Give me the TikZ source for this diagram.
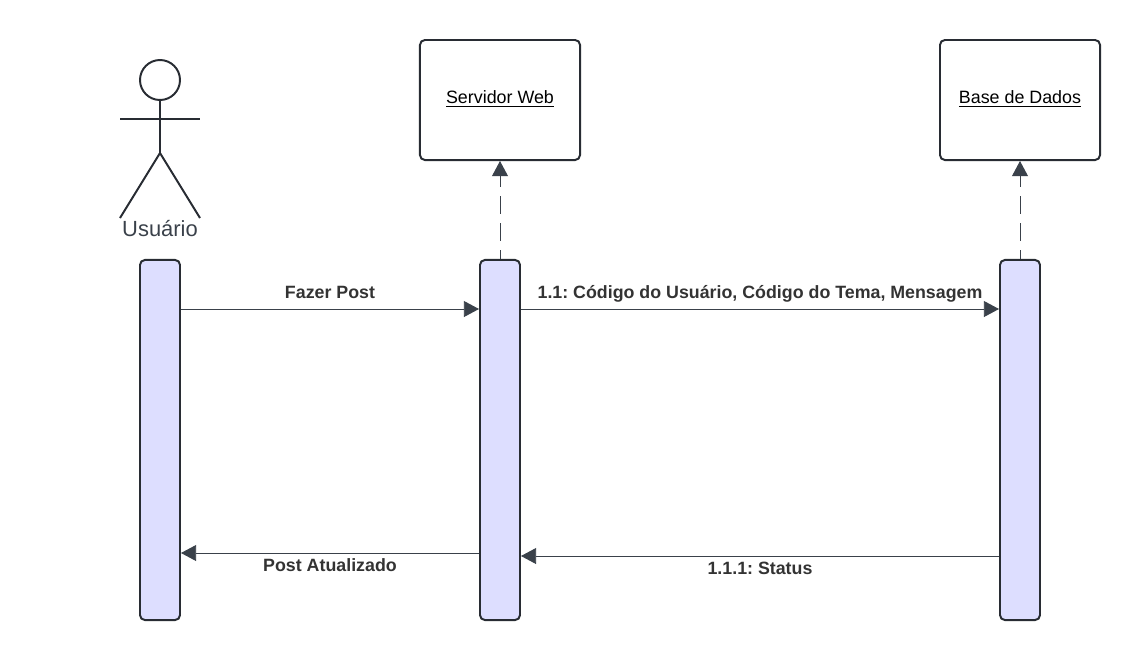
\documentclass[tikz,border=0pt]{standalone}
\usepackage{fontspec}
\setmainfont{Liberation Sans}
\usetikzlibrary{arrows.meta,positioning}
\frenchspacing
\definecolor{linecol}{HTML}{3A414A}
\definecolor{edgecol}{HTML}{282C33}
\definecolor{barcol}{HTML}{DDDEFF}
\definecolor{textcol}{HTML}{333333}

\begin{document}
\begin{tikzpicture}[
    x=0.025cm, y=-0.025cm,
    font=\fontsize{12.7pt}{15pt}\selectfont,
    objbox/.style={draw=edgecol, line width=1.4pt, rounded corners=3.5pt, fill=white, minimum width=4cm, minimum height=3cm, inner sep=0pt, text=black, text height=8pt, text depth=2.6pt},
    bar/.style={draw=edgecol, line width=1.4pt, rounded corners=3.5pt, fill=barcol, minimum width=1cm, minimum height=9cm, inner sep=0pt},
    actorline/.style={draw=edgecol, line width=1.4pt},
    msg/.style={draw=linecol, line width=0.65pt, -{Triangle[length=3.8mm, width=4mm]}},
    lifeline/.style={msg, dash pattern=on 12.8pt off 6.4pt, dash phase=6.4pt},
    msglabel/.style={font=\fontsize{12.66pt}{15pt}\selectfont\bfseries, text=textcol, inner sep=0pt, anchor=base},
]
\useasboundingbox (0,0) rectangle (1140,660);

% actor
\node[draw=edgecol, line width=1.4pt, circle, minimum size=1cm, inner sep=0pt] (head) at (160,80) {};
\coordinate (hip) at (160,153);
\coordinate (armL) at (120,119);
\coordinate (armR) at (200,119);
\coordinate (footL) at (120,218);
\coordinate (footR) at (200,218);
\draw[actorline] (head.south) -- (hip);
\draw[actorline] (armL) -- (armR);
\draw[actorline] (footL) -- (hip) -- (footR);
\node[font=\fontsize{15.6pt}{18pt}\selectfont, text=linecol, inner sep=0pt] (userlab) at (160,228.5) {Usuário};

% objects
\node[objbox] (web) at (500,100) {\underline{Servidor Web}};
\node[objbox] (db) at (1020,100) {\underline{Base de Dados}};

% activation bars
\foreach \n/\xx in {userbar/160, webbar/500, dbbar/1020} {
    \node[bar] (\n) at (\xx,440) {};
}

% lifelines up to the objects
\draw[lifeline] (webbar.north) -- (web.south);
\draw[lifeline] (dbbar.north) -- (db.south);

% messages
\coordinate (m1) at (0,309);
\coordinate (m2) at (0,553);
\coordinate (m3) at (0,556);
\draw[msg] (userbar.east|-m1) -- (webbar.west|-m1);
\draw[msg] (webbar.east|-m1) -- (dbbar.west|-m1);
\draw[msg] (webbar.west|-m2) -- (userbar.east|-m2);
\draw[msg] (dbbar.west|-m3) -- (webbar.east|-m3);

% message labels
\node[msglabel] (fazer) at (330,298) {Fazer Post};
\node[msglabel] (dados) at (760,298) {1.1: Código do Usuário, Código do Tema, Mensagem};
\node[msglabel] (atual) at (330,571) {Post Atualizado};
\node[msglabel] (status) at (760,574) {1.1.1: Status};
\end{tikzpicture}
\end{document}
